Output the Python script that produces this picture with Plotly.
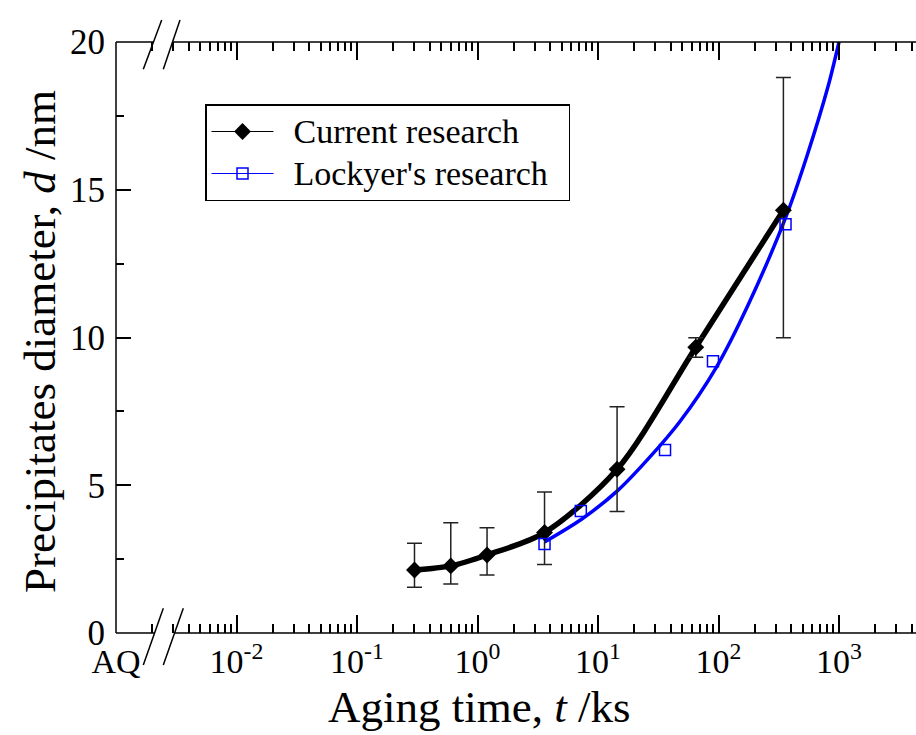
import plotly.graph_objects as go

# ---- data ----
cur_t = [0.3, 0.6, 1.2, 3.6, 14.4, 64.8, 345.6]
cur_d = [2.13, 2.27, 2.64, 3.40, 5.54, 9.67, 14.31]
cur_err_plus = [0.91, 1.46, 0.92, 1.37, 2.12, 0.32, 4.49]
cur_err_minus = [0.58, 0.61, 0.68, 1.08, 1.43, 0.34, 4.32]

lock_t = [3.6, 7.2, 36.0, 90.0, 360.0]
lock_d = [3.01, 4.13, 6.19, 9.20, 13.83]

fit_t = [3.6, 7.3, 14.4, 26.2, 47.7, 96.2, 176.0, 364.0, 538.0, 812.0, 1000.0]
fit_d = [3.08, 3.85, 4.80, 5.90, 7.15, 9.00, 11.10, 14.10, 16.10, 18.50, 20.0]

x_tickvals = [1e-3, 1e-2, 1e-1, 1e0, 1e1, 1e2, 1e3]
x_ticktext = ["AQ", "10<sup>-2</sup>", "10<sup>-1</sup>", "10<sup>0</sup>",
              "10<sup>1</sup>", "10<sup>2</sup>", "10<sup>3</sup>"]
x_minor = [k * 10.0 ** e for e in range(-3, 4) for k in range(2, 10)]
y_tickvals = [0, 5, 10, 15, 20]
legend_names = ["Current research", "Lockyer's research"]

FONT = "Liberation Serif"
W, H = 916, 735
L, R, T, B = 116, 0, 42, 102
PW, PH = W - L - R, H - T - B
NB = "\u00a0\u00a0"


def px(x):
    return (x - L) / PW


def py(y):
    return (H - B - y) / PH


def leg(name):
    return NB + '<span style="font-size:34px">' + name + "</span>" + NB


fig = go.Figure()

fig.add_trace(go.Scatter(x=fit_t, y=fit_d, mode="lines",
                         line=dict(color="#0000ff", width=3.5, shape="spline", smoothing=0.8),
                         showlegend=False, hoverinfo="skip"))
fig.add_trace(go.Scatter(x=cur_t, y=cur_d, mode="lines",
                         line=dict(color="black", width=5.5, shape="spline", smoothing=0.85),
                         showlegend=False, hoverinfo="skip"))
fig.add_trace(go.Scatter(x=cur_t, y=cur_d, mode="markers",
                         marker=dict(symbol="diamond", size=13, color="black"),
                         error_y=dict(type="data", symmetric=False, array=cur_err_plus, arrayminus=cur_err_minus,
                                      color="#222222", thickness=1.5, width=7.5),
                         showlegend=False))
fig.add_trace(go.Scatter(x=lock_t, y=lock_d, mode="markers",
                         marker=dict(symbol="square-open", size=11, color="#0000ff", line=dict(width=1.5)),
                         showlegend=False))
# legend entries
fig.add_trace(go.Scatter(x=[None], y=[None], mode="lines+markers", name=leg(legend_names[0]),
                         line=dict(color="black", width=1.2),
                         marker=dict(symbol="diamond", size=13, color="black")))
fig.add_trace(go.Scatter(x=[None], y=[None], mode="lines+markers", name=leg(legend_names[1]),
                         line=dict(color="#0000ff", width=1.2),
                         marker=dict(symbol="square-open", size=11, color="#0000ff", line=dict(width=1.5))))

shapes = []
lw = 1.5


def seg(x0, y0, x1, y1):
    shapes.append(dict(type="line", xref="paper", yref="paper", x0=x0, y0=y0, x1=x1, y1=y1,
                       line=dict(color="black", width=lw)))


# frame with axis break
seg(0, 0, 0, 1)
seg(0, 0, px(154.5), 0)
seg(px(174.5), 0, 1, 0)
seg(0, 1, px(153.9), 1)
seg(px(172.9), 1, 1, 1)
# break marks
seg(px(143.3), py(665), px(163.3), py(608.3))
seg(px(163.3), py(665), px(183.3), py(608.3))
seg(px(143.3), py(69.3), px(161.7), py(20))
seg(px(163.3), py(69.3), px(180.0), py(20))

fig.update_layout(
    width=W, height=H,
    margin=dict(l=L, r=R, t=T, b=B, pad=0),
    paper_bgcolor="white", plot_bgcolor="white",
    font=dict(family=FONT, color="black", size=34),
    shapes=shapes,
    showlegend=True,
    legend=dict(x=px(205), y=py(104), xanchor="left", yanchor="top",
                bordercolor="black", borderwidth=1.5, bgcolor="white",
                font=dict(family=FONT, size=30, color="black"), itemwidth=62, tracegroupgap=0),
    xaxis=dict(type="log", range=[-3, -3 + PW / 120.5], showline=False, showgrid=False, zeroline=False,
               ticks="inside", ticklen=18, tickwidth=1.5, tickcolor="black", mirror="ticks",
               tickmode="array", tickvals=x_tickvals, ticktext=x_ticktext, ticklabelstandoff=5,
               tickfont=dict(family=FONT, size=34, color="black"),
               minor=dict(ticks="inside", ticklen=9, tickwidth=1.5, tickcolor="black",
                          tickmode="array", tickvals=x_minor, showgrid=False)),
    yaxis=dict(range=[0, 20], showline=False, showgrid=False, zeroline=False,
               ticks="inside", ticklen=15, tickwidth=1.5, tickcolor="black", mirror=False,
               tickmode="array", tickvals=y_tickvals, ticklabelstandoff=10,
               tickfont=dict(family=FONT, size=35, color="black"),
               minor=dict(ticks="inside", ticklen=8, tickwidth=1.5, tickcolor="black", dtick=2.5,
                          showgrid=False)),
    yaxis2=dict(range=[0, 20], overlaying="y", side="right", showline=False, showgrid=False, zeroline=False,
                ticks="inside", ticklen=7, tickwidth=1.5, tickcolor="black", showticklabels=False,
                tickmode="array", tickvals=[5, 10, 15]),
    annotations=[
        dict(text="Aging time, <i>t</i> /ks", xref="paper", yref="paper", x=px(479), y=py(707),
             xanchor="center", yanchor="middle", showarrow=False,
             font=dict(family=FONT, size=45, color="black")),
        dict(text="Precipitates diameter, <i>d</i> /nm", xref="paper", yref="paper", x=px(40), y=py(342),
             xanchor="center", yanchor="middle", textangle=-90, showarrow=False,
             font=dict(family=FONT, size=45, color="black")),
    ],
)

fig.write_html("out.html")
